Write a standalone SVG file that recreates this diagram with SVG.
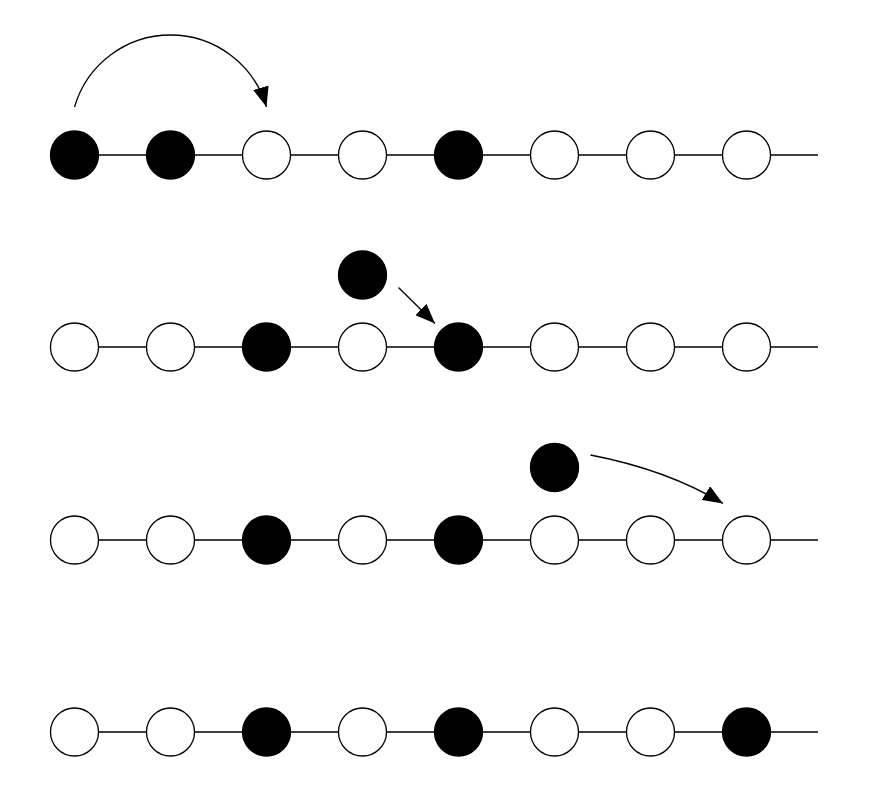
<svg xmlns="http://www.w3.org/2000/svg" width="874" height="810" viewBox="0 0 874 810">
<style>
.b{fill:#000;stroke:#000;stroke-width:1.3}
.w{fill:#fff;stroke:#000;stroke-width:1.3}
.ln{stroke:#000;stroke-width:1.3;fill:none}
</style>
<defs>
<marker id="ah" markerUnits="userSpaceOnUse" markerWidth="22" markerHeight="16" refX="20" refY="8" orient="auto"><path d="M0,0 L20,8 L0,16 z" fill="#000"/></marker>
</defs>
<rect width="874" height="810" fill="#fff"/>
<g id="connectors">
<line class="ln" x1="74.5" y1="155" x2="818" y2="155"/>
<line class="ln" x1="74.5" y1="347" x2="818" y2="347"/>
<line class="ln" x1="74.5" y1="540" x2="818" y2="540"/>
<line class="ln" x1="74.5" y1="732" x2="818" y2="732"/>
<path class="ln" d="M74.5,107 A100,100 0 0 1 266.5,107" marker-end="url(#ah)"/>
<line class="ln" x1="398.5" y1="287.5" x2="435" y2="323.5" marker-end="url(#ah)"/>
<path class="ln" d="M590.5,455 Q668,470 723,503.5" marker-end="url(#ah)"/>
</g>
<g id="row1">
<circle id="r1n1" class="b" cx="74.5" cy="155" r="24"/>
<circle id="r1n2" class="b" cx="170.5" cy="155" r="24"/>
<circle id="r1n3" class="w" cx="266.5" cy="155" r="24"/>
<circle id="r1n4" class="w" cx="362.5" cy="155" r="24"/>
<circle id="r1n5" class="b" cx="458.5" cy="155" r="24"/>
<circle id="r1n6" class="w" cx="554.5" cy="155" r="24"/>
<circle id="r1n7" class="w" cx="650.5" cy="155" r="24"/>
<circle id="r1n8" class="w" cx="746.5" cy="155" r="24"/>
</g>
<g id="row2">
<circle id="r2n1" class="w" cx="74.5" cy="347" r="24"/>
<circle id="r2n2" class="w" cx="170.5" cy="347" r="24"/>
<circle id="r2n3" class="b" cx="266.5" cy="347" r="24"/>
<circle id="r2n4" class="w" cx="362.5" cy="347" r="24"/>
<circle id="r2n5" class="b" cx="458.5" cy="347" r="24"/>
<circle id="r2n6" class="w" cx="554.5" cy="347" r="24"/>
<circle id="r2n7" class="w" cx="650.5" cy="347" r="24"/>
<circle id="r2n8" class="w" cx="746.5" cy="347" r="24"/>
<circle id="r2float" class="b" cx="362.5" cy="275" r="24"/>
</g>
<g id="row3">
<circle id="r3n1" class="w" cx="74.5" cy="540" r="24"/>
<circle id="r3n2" class="w" cx="170.5" cy="540" r="24"/>
<circle id="r3n3" class="b" cx="266.5" cy="540" r="24"/>
<circle id="r3n4" class="w" cx="362.5" cy="540" r="24"/>
<circle id="r3n5" class="b" cx="458.5" cy="540" r="24"/>
<circle id="r3n6" class="w" cx="554.5" cy="540" r="24"/>
<circle id="r3n7" class="w" cx="650.5" cy="540" r="24"/>
<circle id="r3n8" class="w" cx="746.5" cy="540" r="24"/>
<circle id="r3float" class="b" cx="554.5" cy="467.5" r="24"/>
</g>
<g id="row4">
<circle id="r4n1" class="w" cx="74.5" cy="732" r="24"/>
<circle id="r4n2" class="w" cx="170.5" cy="732" r="24"/>
<circle id="r4n3" class="b" cx="266.5" cy="732" r="24"/>
<circle id="r4n4" class="w" cx="362.5" cy="732" r="24"/>
<circle id="r4n5" class="b" cx="458.5" cy="732" r="24"/>
<circle id="r4n6" class="w" cx="554.5" cy="732" r="24"/>
<circle id="r4n7" class="w" cx="650.5" cy="732" r="24"/>
<circle id="r4n8" class="b" cx="746.5" cy="732" r="24"/>
</g>
</svg>
